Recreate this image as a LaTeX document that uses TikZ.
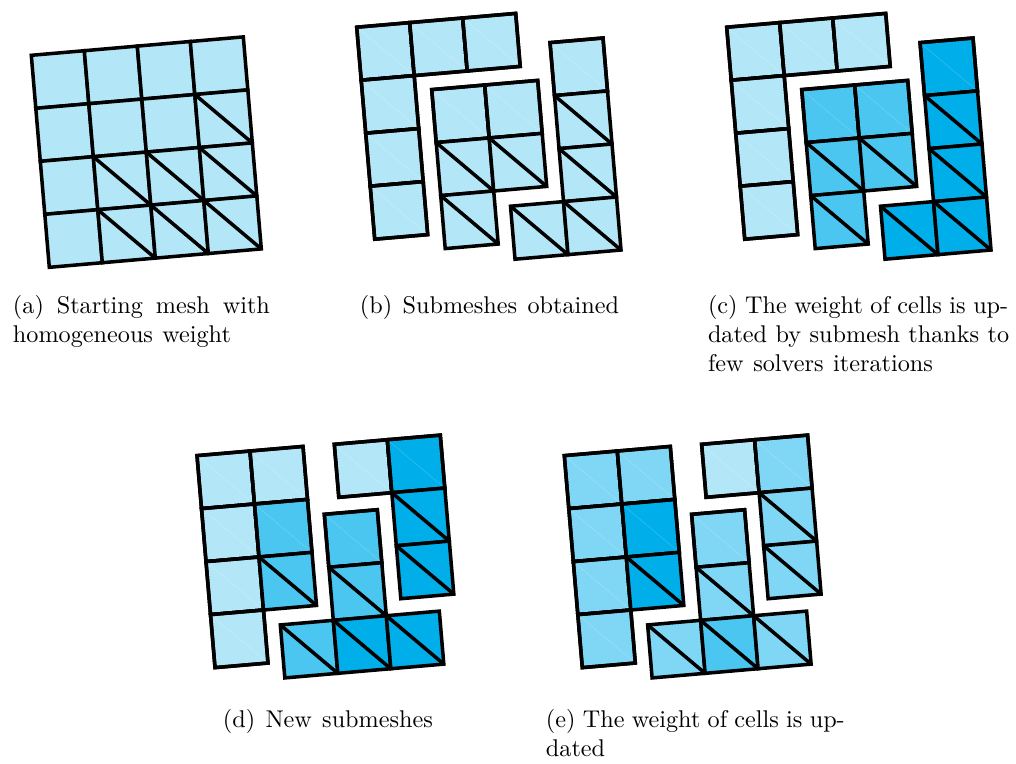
\documentclass[tikz,border=0pt]{standalone}
\definecolor{wlight}{HTML}{B3E7F8}
\definecolor{wsoft}{HTML}{80D7F5}
\definecolor{wmid}{HTML}{4AC6F0}
\definecolor{wdark}{HTML}{00AEEA}
\newcommand\cellplain[3]{\draw[meshline,fill=#3] (#1,#2) -- ++(1,0) -- ++(0,1) -- ++(-1,0) -- cycle;}
\newcommand\cellseam[3]{\cellplain{#1}{#2}{#3}\draw[seamline] (#1,#2) -- ++(1,1);\draw[meshline,fill=none] (#1,#2) -- ++(1,0) -- ++(0,1) -- ++(-1,0) -- cycle;}
\newcommand\celldiag[3]{\cellplain{#1}{#2}{#3}\draw[meshline] (#1,#2) -- ++(1,1);}
\newcommand\layoutbc[4]{%
  \begin{scope}[shift={(#1+356.7,27.2)},meshgrid]
    \cellseam{0}{0}{#2}\cellseam{1}{0}{#2}\cellseam{2}{0}{#2}
    \cellseam{0}{1}{#2}\cellseam{0}{2}{#2}\cellseam{0}{3}{#2}
  \end{scope}
  \begin{scope}[shift={(#1+431.7,89.6)},meshgrid]
    \cellseam{0}{0}{#3}\cellseam{1}{0}{#3}
    \celldiag{0}{1}{#3}\celldiag{1}{1}{#3}\celldiag{0}{2}{#3}
  \end{scope}
  \begin{scope}[shift={(#1+550,42.6)},meshgrid]
    \cellseam{0}{0}{#4}\celldiag{0}{1}{#4}\celldiag{0}{2}{#4}
    \celldiag{-1}{3}{#4}\celldiag{0}{3}{#4}
  \end{scope}}
\tikzset{
  meshgrid/.style={x={(21.889pt,1.9pt)},y={(1.859pt,-21.889pt)}},
  meshline/.style={draw=black,line width=1.45pt},
  seamline/.style={draw=white,line width=0.2pt,opacity=0.22},
  captiontext/.style={anchor=north west,inner sep=0pt,align=left,
    font=\fontsize{10}{12}\selectfont}
}
\begin{document}
\begin{tikzpicture}[x=0.413pt,y=-0.413pt]
\useasboundingbox (0,0) rectangle (1016,763);
% (a)
\begin{scope}[shift={(31.3,55.3)},meshgrid]
  \cellplain{0}{0}{wlight}\cellplain{1}{0}{wlight}\cellplain{2}{0}{wlight}\cellplain{3}{0}{wlight}
  \cellplain{0}{1}{wlight}\cellplain{1}{1}{wlight}\cellplain{2}{1}{wlight}\celldiag{3}{1}{wlight}
  \cellplain{0}{2}{wlight}\celldiag{1}{2}{wlight}\celldiag{2}{2}{wlight}\celldiag{3}{2}{wlight}
  \cellplain{0}{3}{wlight}\celldiag{1}{3}{wlight}\celldiag{2}{3}{wlight}\celldiag{3}{3}{wlight}
\end{scope}
% (b), (c)
\layoutbc{0}{wlight}{wlight}{wlight}
\layoutbc{370}{wlight}{wmid}{wdark}
% (d)
\begin{scope}[shift={(197,455.6)},meshgrid]
  \cellseam{0}{0}{wlight}\cellseam{1}{0}{wlight}
  \cellseam{0}{1}{wlight}\cellseam{1}{1}{wmid}
  \cellseam{0}{2}{wlight}\celldiag{1}{2}{wmid}
  \cellseam{0}{3}{wlight}
\end{scope}
\begin{scope}[shift={(334.3,444.3)},meshgrid]
  \cellseam{0}{0}{wlight}\cellseam{1}{0}{wdark}
  \celldiag{1}{1}{wdark}\celldiag{1}{2}{wdark}
\end{scope}
\begin{scope}[shift={(324.3,514.3)},meshgrid]
  \cellseam{0}{0}{wmid}\celldiag{0}{1}{wmid}
  \celldiag{-1}{2}{wmid}\celldiag{0}{2}{wdark}\celldiag{1}{2}{wdark}
\end{scope}
% (e)
\begin{scope}[shift={(564.3,455.6)},meshgrid]
  \cellseam{0}{0}{wsoft}\cellseam{1}{0}{wsoft}
  \cellseam{0}{1}{wsoft}\cellseam{1}{1}{wdark}
  \cellseam{0}{2}{wsoft}\celldiag{1}{2}{wdark}
  \cellseam{0}{3}{wsoft}
\end{scope}
\begin{scope}[shift={(701.6,444.3)},meshgrid]
  \cellseam{0}{0}{wlight}\cellseam{1}{0}{wsoft}
  \celldiag{1}{1}{wsoft}\celldiag{1}{2}{wsoft}
\end{scope}
\begin{scope}[shift={(691.6,514.3)},meshgrid]
  \cellseam{0}{0}{wsoft}\celldiag{0}{1}{wsoft}
  \celldiag{-1}{2}{wsoft}\celldiag{0}{2}{wmid}\celldiag{1}{2}{wsoft}
\end{scope}
% captions
\node[captiontext] (capa) at (12.5,294.5) {\makebox[106.1pt][s]{(a) Starting mesh with}\\\makebox[90pt][s]{homogeneous weight}};
\node[captiontext] (capb) at (359.5,294.5) {\makebox[107pt][s]{(b) Submeshes obtained}};
\node[captiontext] (capc) at (707.5,294.5) {\makebox[124pt][s]{(c) The weight of cells is up-}\\\makebox[124.4pt][s]{dated by submesh thanks to}\\\makebox[92.9pt][s]{few solvers iterations}};
\node[captiontext] (capd) at (222.5,708.5) {\makebox[86.7pt][s]{(d) New submeshes}};
\node[captiontext] (cape) at (545.5,708.5) {\makebox[123.4pt][s]{(e) The weight of cells is up-}\\dated};
\end{tikzpicture}
\end{document}
